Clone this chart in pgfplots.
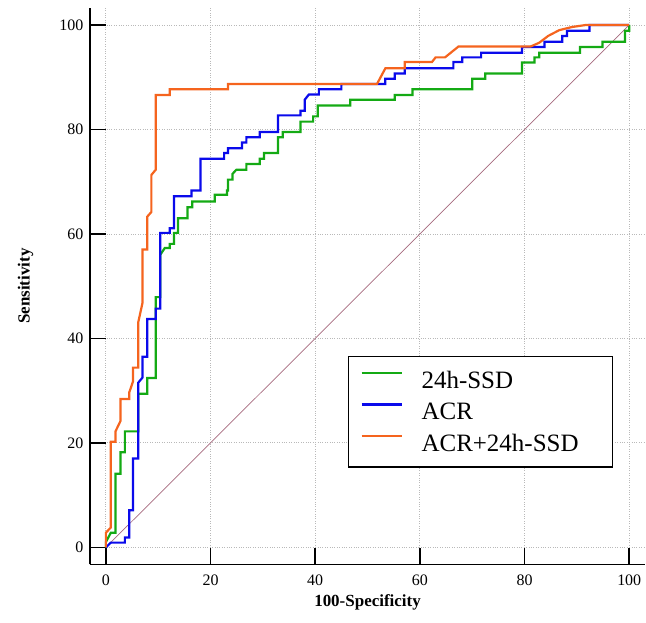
\documentclass[border=0pt]{standalone}
\usepackage{fontspec}
\setmainfont{Liberation Serif}
\usepackage{pgfplots}
\pgfplotsset{compat=1.18}
\definecolor{cgreen}{RGB}{20,170,20}
\definecolor{cblue}{RGB}{10,10,235}
\definecolor{corange}{RGB}{245,100,30}
\definecolor{cdiag}{RGB}{165,105,125}
\begin{document}
\begin{tikzpicture}
\begin{axis}[
  width=556pt, height=557pt, scale only axis,
  xmin=-3.05, xmax=103.05, ymin=-3.25, ymax=103.25,
  axis x line=bottom, axis y line=left,
  axis line style={-, line width=1.6pt, black},
  xtick={0,20,...,100}, ytick={0,20,...,100},
  tick align=inside, major tick length=16pt,
  tick style={line width=1.6pt, black},
  grid=major, grid style={dotted, gray!55, line width=0.8pt},
  /pgf/number format/assume math mode=true,
  ticklabel style={font=\fontsize{16}{19}\selectfont},
  xticklabel style={yshift=-7pt},
  yticklabel style={xshift=-3pt},
  xlabel={\textbf{100-Specificity}},
  ylabel={\textbf{Sensitivity}},
  label style={font=\fontsize{17}{20}\selectfont},
  xlabel style={at={(axis description cs:0.5,-0.0754)}, anchor=base},
  ylabel style={at={(axis description cs:-0.1160,0.5)}, anchor=center},
  legend style={at={(axis description cs:0.464,0.375)}, anchor=north west,
    draw=black, line width=1.5pt, fill=white, inner xsep=12pt, inner ysep=12pt,
    font=\fontsize{25}{30}\selectfont, row sep=8pt,
    cells={anchor=west, inner sep=0pt, text height=18pt, text depth=5pt}},
  legend image code/.code={\draw[#1, line width=2.5pt] (0pt,7pt) -- (41pt,7pt); \path (0pt,0pt) (57pt,0pt);},
]
\coordinate (bbl) at (axis description cs:-0.1619,-0.1041);
\coordinate (btr) at (axis description cs:1.0,1.0144);
\addplot[color=cdiag, line width=0.7pt, forget plot] coordinates {(0,0) (100,100)};
% 24h-SSD
\addplot[color=cgreen, line width=2.2pt] coordinates {
(0,0) (0,1) (0.95,2.8) (1.84,2.8) (1.84,14.1) (2.8,14.1) (2.8,18.2) (3.63,18.2) (3.63,22.2)
(6.17,22.2) (6.17,29.4) (7.9,29.4) (7.9,32.4) (9.54,32.4) (9.54,47.9) (10.4,47.9) (10.4,56.0)
(11.25,57.3) (12.2,57.3) (12.2,58.1) (13.0,58.1) (13.0,60.2) (13.8,60.2) (13.8,63.0)
(15.6,63.0) (15.6,65.1) (16.5,65.1) (16.5,66.2) (20.8,66.2) (20.8,67.5) (23.15,67.5)
(23.15,68.3) (23.35,68.3) (23.35,70.4) (24.2,70.4) (24.2,71.5) (24.94,72.3) (26.85,72.3)
(26.85,73.4) (29.4,73.4) (29.4,74.4) (30.2,74.4) (30.2,75.5) (32.9,75.5) (32.9,78.5)
(33.8,78.5) (33.8,79.5) (37.2,79.5) (37.2,81.5) (39.6,81.5) (39.6,82.5) (40.5,82.5)
(40.5,84.6) (46.7,84.6) (46.7,85.7) (55.2,85.7) (55.2,86.6) (58.6,86.6) (58.6,87.7)
(70.0,87.7) (70.0,89.7) (72.5,89.7) (72.5,90.7) (79.5,90.7) (79.5,92.8) (81.9,92.8)
(81.9,93.8) (82.8,93.8) (82.8,94.7) (90.6,94.7) (90.6,95.8) (94.9,95.8) (94.9,96.8)
(99.2,96.8) (99.2,98.9) (100,98.9) (100,100)};
\addlegendentry{24h-SSD}
% ACR
\addplot[color=cblue, line width=2.2pt] coordinates {
(0,0) (0.95,0.9) (3.63,0.9) (3.63,1.9) (4.45,1.9) (4.45,7.1) (5.2,7.1) (5.2,17.0)
(6.17,17.0) (6.17,31.5) (7.0,32.5) (7.0,36.5) (7.9,36.5) (7.9,43.7) (9.54,43.7) (9.54,45.7)
(10.4,45.7) (10.4,60.2) (12.2,60.2) (12.2,61.1) (13.0,61.1) (13.0,67.2) (16.35,67.2)
(16.35,68.3) (18.1,68.3) (18.1,74.4) (22.6,74.4) (22.6,75.5) (23.35,75.5) (23.35,76.4)
(26.0,76.4) (26.0,77.5) (26.85,77.5) (26.85,78.5) (29.4,78.5) (29.4,79.5) (32.9,79.5)
(32.9,82.7) (37.2,82.7) (37.2,83.6) (38.0,83.6) (38.0,85.7) (38.8,86.7) (40.7,86.7)
(40.7,87.7) (45.0,87.7) (45.0,88.7) (53.4,88.7) (53.4,89.7) (55.2,89.7) (55.2,90.7)
(57.1,90.7) (57.1,91.7) (66.4,91.7) (66.4,92.9) (68.1,92.9) (68.1,93.8) (71.7,93.8)
(71.7,94.7) (79.5,94.7) (79.5,95.8) (83.8,95.8) (83.8,96.8) (87.2,96.8) (87.2,97.9)
(88.1,97.9) (88.1,98.9) (92.4,98.9) (92.4,100) (100,100)};
\addlegendentry{ACR}
% ACR+24h-SSD
\addplot[color=corange, line width=2.2pt] coordinates {
(0,0) (0,2.8) (0.95,3.8) (0.95,20.2) (1.84,20.2) (1.84,22.2) (2.8,24.2) (2.8,28.4)
(4.45,28.4) (4.45,29.6) (5.2,31.8) (5.2,34.4) (6.17,34.4) (6.17,43) (7.0,46.8) (7.0,57.0)
(7.9,57.0) (7.9,63.3) (8.7,64.2) (8.7,71.3) (9.54,72.3) (9.54,86.6) (12.2,86.6) (12.2,87.7)
(23.35,87.7) (23.35,88.7) (51.8,88.7) (53.4,91.7) (57.1,91.7) (57.1,92.9) (62.3,92.9)
(63.0,93.8) (64.8,93.8) (67.4,95.9) (81.2,95.9) (82.8,96.6) (84.5,97.9) (86.6,99.0)
(89,99.6) (91.7,100) (100,100)};
\addlegendentry{ACR+24h-SSD\hspace*{20pt}}
\end{axis}
\path (bbl) rectangle (btr);
\end{tikzpicture}
\end{document}
